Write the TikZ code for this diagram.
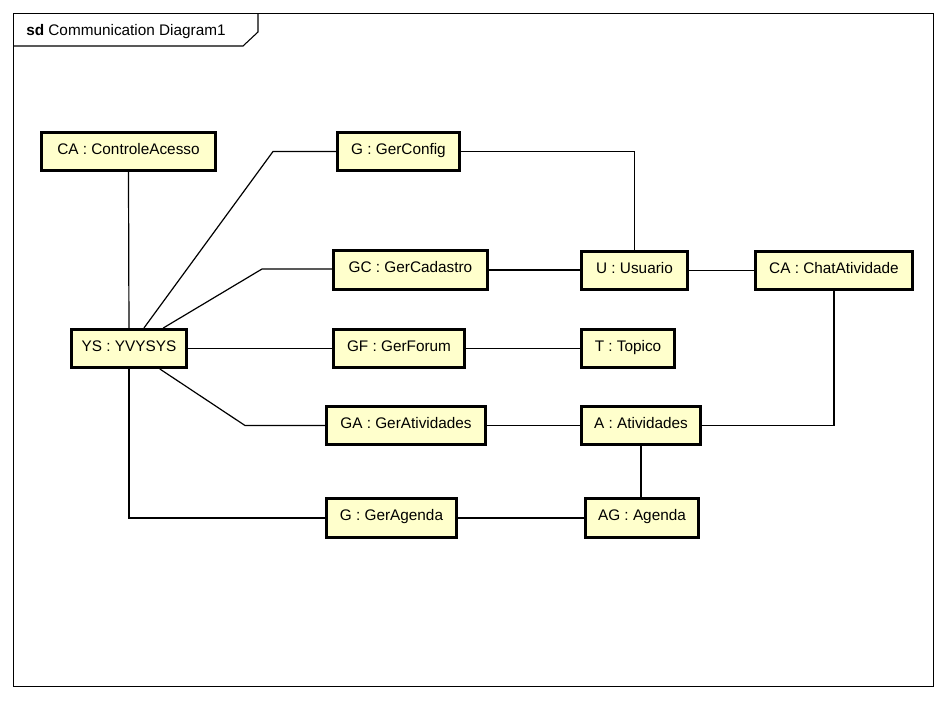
\documentclass[tikz,border=0pt]{standalone}
\usepackage{fontspec}
\setmainfont{Liberation Sans}
\definecolor{objfill}{RGB}{255,255,204}
% object box given by its outer pixel bounds: name, x1, y1, x2, y2, label
% (the north west anchor already lies half a line width outside the border)
\newcommand\objbox[6]{%
  \node[obj, minimum width={(#4-#2-3.5)*0.75pt}, minimum height={(#5-#3-3.5)*0.75pt}]
    (#1) at (#2,#3) {#6};}
\begin{document}
\begin{tikzpicture}[x=0.75pt,y=-0.75pt,
  obj/.style={draw=black, line width=2.6pt, fill=objfill, inner sep=0pt,
    text height=8pt, text depth=4pt,
    anchor=north west, font=\fontsize{11.5}{13}\selectfont},
  link/.style={draw=black, line width=0.9pt},
  framebox/.style={draw=black, line width=0.8pt}]
\useasboundingbox (0,0) rectangle (949,700);
\fill[white] (0,0) rectangle (949,700);

% diagram frame with its name tab
\draw[framebox] (13.5,13.5) rectangle (933.5,686.5);
\draw[framebox] (13.5,46) -- (243,46) -- (258,32) -- (258,13.5);
\node[anchor=west, inner sep=0pt, font=\fontsize{11.5}{13}\selectfont] (title) at (26,32)
  {\textbf{sd} Communication Diagram1};

% objects
\objbox{ctl}{40}{131}{217}{172}{CA : ControleAcesso}
\objbox{gcfg}{336}{131}{461}{172}{G : GerConfig}
\objbox{gcad}{332}{249}{489}{291}{GC : GerCadastro}
\objbox{usr}{580}{250}{689}{291}{U : Usuario}
\objbox{chat}{754}{250}{914}{291}{CA : ChatAtividade}
\objbox{ys}{70}{328}{188}{369}{YS : YVYSYS}
\objbox{gf}{332}{328}{466}{369}{GF : GerForum}
\objbox{top}{580}{328}{676}{369}{T : Topico}
\objbox{gat}{325}{405}{487}{446}{GA : GerAtividades}
\objbox{atv}{580}{405}{702}{446}{A : Atividades}
\objbox{gag}{325}{497}{458}{539}{G : GerAgenda}
\objbox{agd}{584}{497}{700}{539}{AG : Agenda}

% bend points of the links
\coordinate (b1) at (273,151.5);
\coordinate (b2) at (262,269);
\coordinate (b3) at (245,425.5);

% links
\draw[link] (ctl.south) -- (ys.north);
\draw[link] (ys) -- (b1) -- (b1 -| gcfg.west);
\draw[link] (ys) -- (b2) -- (b2 -| gcad.west);
\draw[link] (ys.east) -- (gf.west);
\draw[link] (ys) -- (b3) -- (b3 -| gat.west);
\draw[link] (ys.south) -- (ys.south |- gag.west) -- (gag.west);
\draw[link] (gcfg.east) -| (usr.north);
\draw[link] (gcad.east) -- (gcad.east -| usr.west);
\draw[link] (usr.east) -- (chat.west);
\draw[link] (gf.east) -- (top.west);
\draw[link] (gat.east) -- (atv.west);
\draw[link] (atv.east) -| (chat.south);
\draw[link] (atv.south) -- (atv.south |- agd.north);
\draw[link] (gag.east) -- (gag.east -| agd.west);
\end{tikzpicture}
\end{document}
